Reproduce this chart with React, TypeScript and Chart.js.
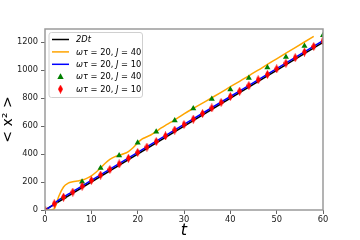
import React, { useEffect, useRef } from "react";
import { Chart, registerables } from "chart.js";
Chart.register(...registerables);

// ---- data ----
const refT = [0, 60];
const refY = [0, 1200];

const orangeT = [0, 1, 2, 2.5, 3, 4, 5, 6, 7, 8, 9, 10, 11, 12, 13, 14, 15, 16, 17, 18, 19, 20, 21, 22, 23, 24, 25, 26, 27, 28, 29, 30,
  32, 34, 36, 38, 40, 42, 44, 46, 48, 50, 52, 54, 56, 58];
const orangeY = [0, 0, 8, 50, 100, 165, 192, 202, 208, 214, 226, 244, 270, 300, 335, 362, 380, 392, 402, 418, 445, 480, 508, 524, 540, 562, 585, 606, 625, 645, 666, 688,
  727, 765, 803, 842, 882, 921, 960, 1000, 1042, 1082, 1122, 1162, 1202, 1242];

const blueT = [0, 1, 2, 3, 4, 5, 6, 10, 20, 30, 40, 50, 60];
const blueY = [0, 18, 45, 72, 93, 113, 132, 212, 412, 612, 812, 1012, 1212];

const greenT = [0, 4, 8, 12, 16, 20, 24, 28, 32, 36, 40, 44, 48, 52, 56, 60];
const greenY = [0, 91, 202, 300, 390, 481, 560, 640, 726, 795, 862, 945, 1020, 1095, 1174, 1250];

const redT = [0, 2, 4, 6, 8, 10, 12, 14, 16, 18, 20, 22, 24, 26, 28, 30, 32, 34, 36, 38, 40, 42, 44, 46, 48, 50, 52, 54, 56, 58, 60];
const redY = [0, 45, 92, 128, 170, 212, 250, 290, 330, 370, 412, 450, 490, 530, 572, 612, 650, 690, 730, 770, 812, 850, 890, 932, 970, 1010, 1050, 1090, 1130, 1170, 1210];

const xTicksStep = 10;
const yTicksStep = 200;
const xMax = 60;
const yMax = 1295;

const legendLabels: [string, string][][] = [
  [["2Dt", "italic"]],
  [["ωτ", "italic"], [" = 20, ", ""], ["J", "italic"], [" = 40", ""]],
  [["ωτ", "italic"], [" = 20, ", ""], ["J", "italic"], [" = 10", ""]],
  [["ωτ", "italic"], [" = 20, ", ""], ["J", "italic"], [" = 40", ""]],
  [["ωτ", "italic"], [" = 20, ", ""], ["J", "italic"], [" = 10", ""]],
];

const FONT = "'DejaVu Sans', sans-serif";

function zip(t: number[], y: number[]) {
  return t.map((v, i) => ({ x: v, y: y[i] }));
}

function makeDiamond(w: number, h: number, color: string) {
  const c = document.createElement("canvas");
  c.width = w;
  c.height = h;
  const g = c.getContext("2d")!;
  g.fillStyle = color;
  g.beginPath();
  g.moveTo(w / 2, 0);
  g.lineTo(w, h / 2);
  g.lineTo(w / 2, h);
  g.lineTo(0, h / 2);
  g.closePath();
  g.fill();
  return c;
}

export default function App() {
  const ref = useRef<HTMLCanvasElement>(null);
  useEffect(() => {
    const diamond = makeDiamond(5, 9, "#ff0000");
    const legendPlugin = {
      id: "innerLegend",
      afterDatasetsDraw(chart: any) {
        const ctx = chart.ctx as CanvasRenderingContext2D;
        const { left, top, right, bottom } = chart.chartArea;
        ctx.save();
        // frame
        ctx.strokeStyle = "#9a9a9a";
        ctx.lineWidth = 1.5;
        ctx.strokeRect(left, top, right - left, bottom - top);
        // legend box
        const bx = left + 4, by = top + 3.5, bw = 93.5, bh = 65, r = 2.5;
        ctx.beginPath();
        ctx.moveTo(bx + r, by);
        ctx.lineTo(bx + bw - r, by);
        ctx.quadraticCurveTo(bx + bw, by, bx + bw, by + r);
        ctx.lineTo(bx + bw, by + bh - r);
        ctx.quadraticCurveTo(bx + bw, by + bh, bx + bw - r, by + bh);
        ctx.lineTo(bx + r, by + bh);
        ctx.quadraticCurveTo(bx, by + bh, bx, by + bh - r);
        ctx.lineTo(bx, by + r);
        ctx.quadraticCurveTo(bx, by, bx + r, by);
        ctx.closePath();
        ctx.fillStyle = "rgba(255,255,255,0.85)";
        ctx.fill();
        ctx.strokeStyle = "#d0d0d0";
        ctx.lineWidth = 1;
        ctx.stroke();
        const order = [0, 1, 2, 3, 4];
        order.forEach((di, row) => {
          const ds = chart.data.datasets[di];
          const y = by + 7 + row * 12.4;
          const x0 = bx + 3, x1 = bx + 20, xm = (x0 + x1) / 2;
          if (ds.showLine !== false) {
            ctx.strokeStyle = ds.borderColor;
            ctx.lineWidth = 1.5;
            ctx.beginPath();
            ctx.moveTo(x0, y);
            ctx.lineTo(x1, y);
            ctx.stroke();
          } else if (ds.pointStyle === "triangle") {
            ctx.fillStyle = ds.backgroundColor;
            ctx.beginPath();
            ctx.moveTo(xm, y - 3.5);
            ctx.lineTo(xm + 3.2, y + 2.3);
            ctx.lineTo(xm - 3.2, y + 2.3);
            ctx.closePath();
            ctx.fill();
          } else {
            ctx.drawImage(diamond, xm - diamond.width / 2, y - diamond.height / 2);
          }
          let tx = bx + 27;
          ctx.fillStyle = "#000";
          ctx.textBaseline = "middle";
          ctx.textAlign = "left";
          for (const [txt, style] of legendLabels[row]) {
            ctx.font = `${style} 8.3px ${FONT}`;
            ctx.fillText(txt, tx, y + 0.5);
            tx += ctx.measureText(txt).width;
          }
        });
        ctx.restore();
      },
    };

    const chart = new Chart(ref.current!, {
      type: "line",
      data: {
        datasets: [
          { label: "2Dt", data: zip(refT, refY), borderColor: "#000000", borderWidth: 1.5, pointRadius: 0, order: 4 } as any,
          { label: "ωτ = 20, J = 40", data: zip(orangeT, orangeY), borderColor: "#ffa500", borderWidth: 1.5, pointRadius: 0, cubicInterpolationMode: "monotone", order: 3 },
          { label: "ωτ = 20, J = 10", data: zip(blueT, blueY), borderColor: "#0000ff", borderWidth: 1.5, pointRadius: 0, cubicInterpolationMode: "monotone", order: 2 },
          { label: "ωτ = 20, J = 40 (sim)", data: zip(greenT, greenY), showLine: false, pointStyle: "triangle", backgroundColor: "#008000", borderColor: "#008000", borderWidth: 0, pointRadius: 3.5, order: 1 },
          { label: "ωτ = 20, J = 10 (sim)", data: zip(redT, redY), showLine: false, pointStyle: diamond, backgroundColor: "#ff0000", borderColor: "#ff0000", pointRadius: 4, order: 0 },
        ],
      },
      options: {
        animation: false,
        responsive: false,
        events: [],
        layout: { padding: { left: 0, right: 37, top: 29, bottom: 0 } },
        plugins: { legend: { display: false }, tooltip: { enabled: false } },
        scales: {
          x: {
            type: "linear",
            min: 0,
            max: xMax,
            border: { display: false },
            grid: { drawOnChartArea: false, drawTicks: true, tickLength: 4, color: "#666" },
            ticks: { stepSize: xTicksStep, font: { family: FONT, size: 8.3 }, color: "#222", padding: 1, maxRotation: 0, callback: (v: any) => String(v) },
            title: { display: true, text: "t", font: { family: FONT, size: 16, style: "italic" }, color: "#000", padding: { top: 0, bottom: 0 } },
            afterFit: (s: any) => { s.height = 30; },
          },
          y: {
            type: "linear",
            min: 0,
            max: yMax,
            border: { display: false },
            grid: { drawOnChartArea: false, drawTicks: true, tickLength: 4, color: "#666" },
            ticks: { stepSize: yTicksStep, font: { family: FONT, size: 8.3 }, color: "#222", padding: 3, callback: (v: any) => String(v) },
            afterBuildTicks: (s: any) => { s.ticks = s.ticks.filter((t: any) => t.value % yTicksStep === 0); },
            title: { display: true, text: "< x² >", font: { family: FONT, size: 14 }, color: "#000", padding: { top: 0, bottom: 0 } },
            afterFit: (s: any) => { s.width = 45; },
          },
        },
      },
      plugins: [legendPlugin],
    });
    return () => chart.destroy();
  }, []);
  return (
    <div style={{ position: "fixed", left: 0, top: 0, width: 360, height: 240, background: "#fff" }}>
      <canvas ref={ref} width={360} height={240} style={{ display: "block" }} />
    </div>
  );
}
